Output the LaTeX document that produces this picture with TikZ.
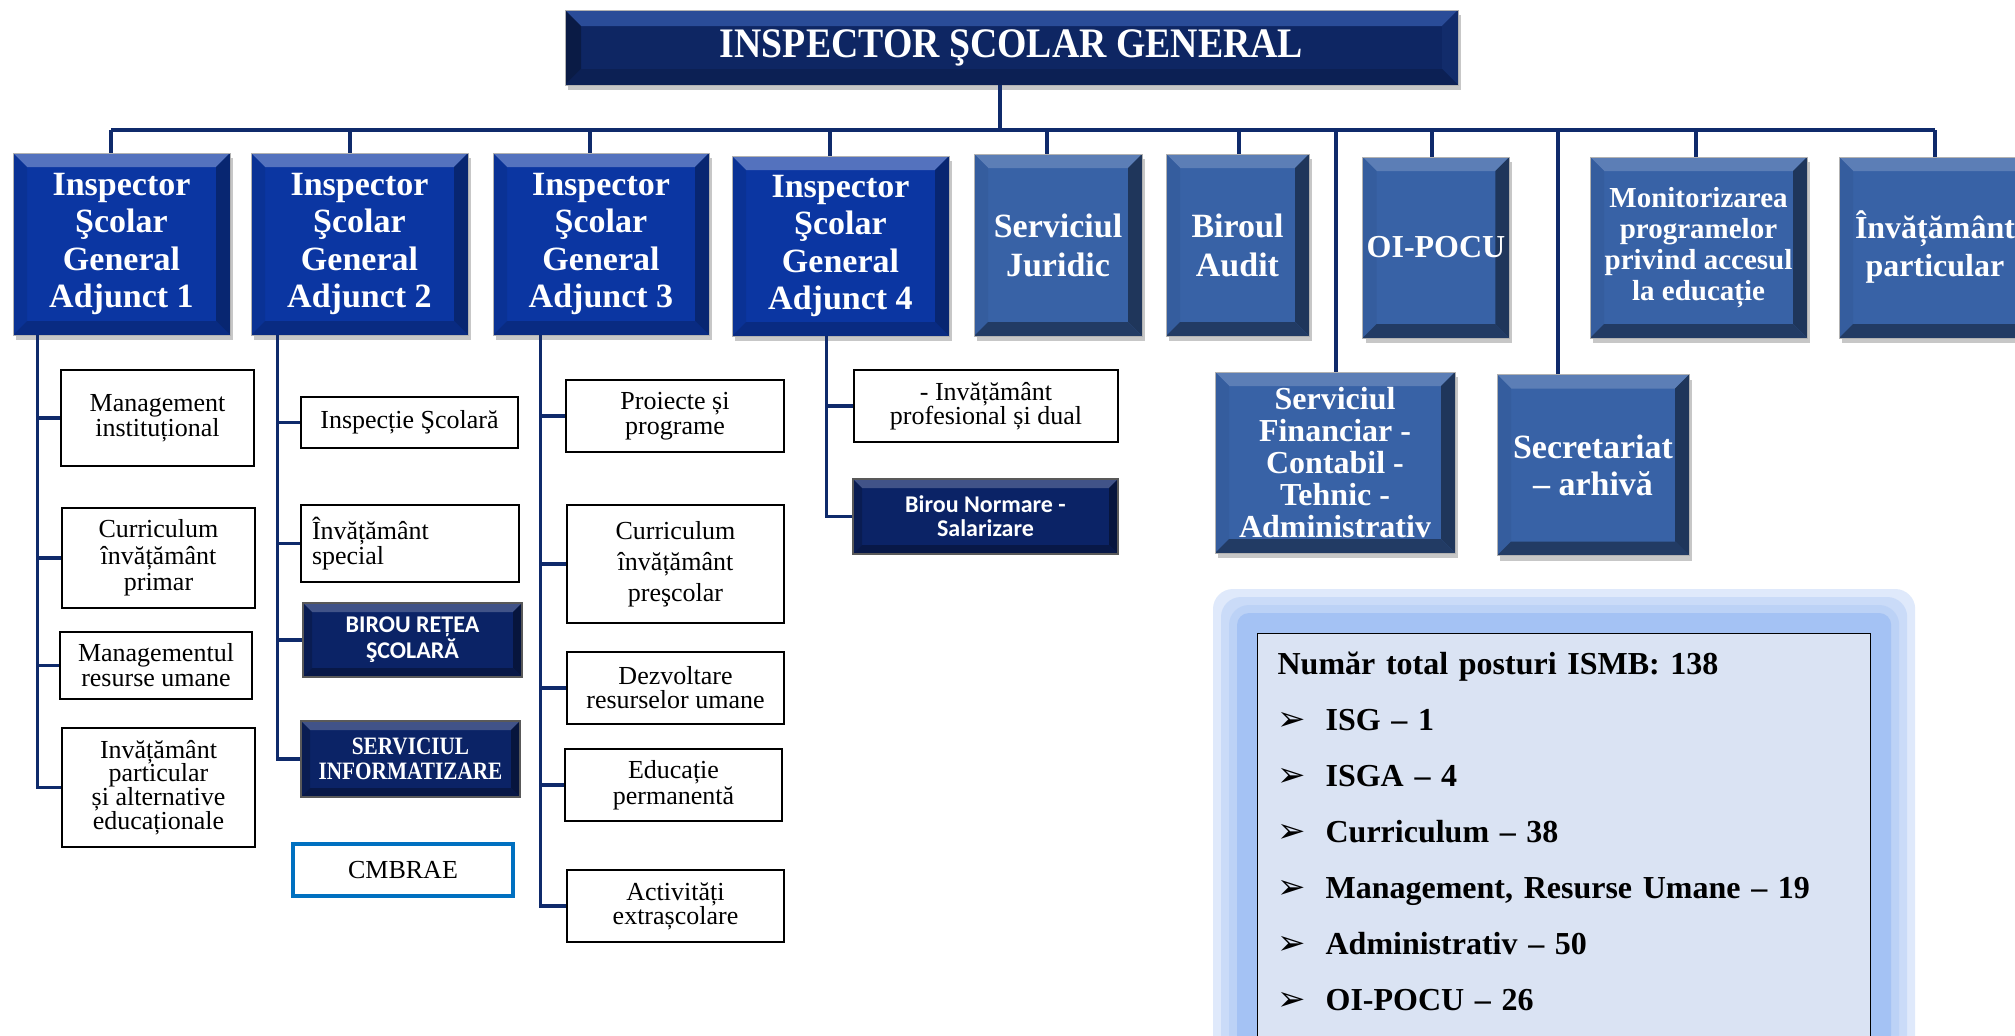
\documentclass[tikz,border=0pt]{standalone}
\usepackage{fontspec}
\setmainfont{Liberation Serif}
\newfontfamily\calibri{Carlito}
\newfontfamily\condserif{Liberation Serif}[FakeStretch=0.85]
\newfontfamily\titleserif{Liberation Serif}[FakeStretch=0.9]
\newfontfamily\arrowsym{DejaVu Sans}
\usetikzlibrary{backgrounds}

\definecolor{linec}{HTML}{0F2A6B}
\definecolor{navy}{HTML}{0E2663}
\definecolor{navytop}{HTML}{2A4C98}
\definecolor{royal}{HTML}{0B36A2}
\definecolor{steel}{HTML}{3862A6}
\definecolor{deep}{HTML}{0B2366}
\definecolor{glowc}{HTML}{A4C2F4}
\definecolor{statfill}{HTML}{DAE3F3}
\definecolor{cmbc}{HTML}{0070C0}

\newcommand\ppb{path picture bounding box}
\newcommand\blt{\makebox[24pt][l]{\arrowsym\fontsize{17}{17}\selectfont ➢}}

\tikzset{
  sz/.style 2 args={minimum width=#1*0.5pt, minimum height=#2*0.5pt},
  bevel/.style n args={5}{path picture={
      \fill[#2] (\ppb.north west) -- (\ppb.north east) -- ([shift={(-#1,-#1)}]\ppb.north east) -- ([shift={(#1,-#1)}]\ppb.north west) -- cycle;
      \fill[#3] (\ppb.north west) -- ([shift={(#1,-#1)}]\ppb.north west) -- ([shift={(#1,#1)}]\ppb.south west) -- (\ppb.south west) -- cycle;
      \fill[#4] (\ppb.north east) -- ([shift={(-#1,-#1)}]\ppb.north east) -- ([shift={(-#1,#1)}]\ppb.south east) -- (\ppb.south east) -- cycle;
      \fill[#5] (\ppb.south west) -- ([shift={(#1,#1)}]\ppb.south west) -- ([shift={(-#1,#1)}]\ppb.south east) -- (\ppb.south east) -- cycle;
    }},
  boxshadow/.style={preaction={fill=black, opacity=0.22, transform canvas={xshift=1.5pt, yshift=-2.5pt}}},
  lvl/.style={draw=gray!60, line width=0.4pt, text=white, align=center, inner sep=2pt, boxshadow,
    font=\bfseries\fontsize{17}{18.8}\selectfont},
  chief/.style={lvl, fill=navy, bevel={8pt}{navytop}{black!30!navy}{navy!85!navytop}{black!15!navy},
    font=\titleserif\bfseries\fontsize{21}{24}\selectfont},
  adjbox/.style={lvl, fill=royal, bevel={7pt}{white!30!royal}{black!8!royal}{black!30!royal}{black!20!royal}},
  deptbox/.style={lvl, fill=steel, bevel={7pt}{white!18!steel}{black!5!steel}{black!45!steel}{black!40!steel}},
  darkbox/.style={draw=gray!70!black, line width=0.6pt, fill=deep, text=white, align=center, inner sep=2pt,
    bevel={4.5pt}{white!22!deep}{black!20!deep}{black!40!deep}{black!30!deep}},
  plainbox/.style={draw=black, line width=1.3pt, fill=white, align=center, inner sep=2pt,
    font=\fontsize{13}{12.5}\selectfont},
  cmbbox/.style={draw=cmbc, line width=2.2pt, fill=white, align=center, font=\fontsize{13}{13}\selectfont},
  statbox/.style={draw=black, line width=0.6pt, fill=statfill, align=left, inner xsep=10pt, inner ysep=9.3pt,
    font=\bfseries\fontsize{16}{28}\selectfont},
  conn/.style={draw=linec, line width=1.6pt},
}

\begin{document}
\begin{tikzpicture}[x=0.5pt, y=-0.5pt]
\useasboundingbox (0,0) rectangle (2015,1035);
\begin{scope}[on background layer]
  \fill[white] (0,0) rectangle (2015,1035);
\end{scope}

% conducere
\node[chief, sz={893}{75}] (isg) at (1011.5,47.5) {INSPECTOR ŞCOLAR GENERAL};

\node[adjbox, sz={217}{182}] (adj1) at (121.5,244) {Inspector\\Şcolar\\General\\Adjunct 1};
\node[adjbox, sz={217}{182}] (adj2) at (359.5,244) {Inspector\\Şcolar\\General\\Adjunct 2};
\node[adjbox, sz={216}{182}] (adj3) at (601,244) {Inspector\\Şcolar\\General\\Adjunct 3};
\node[adjbox, sz={217}{180}] (adj4) at (840.5,246) {Inspector\\Şcolar\\General\\Adjunct 4};

% servicii subordonate ISG
\node[deptbox, sz={168}{182}, font=\bfseries\fontsize{17}{19.5}\selectfont] (jur) at (1058,245) {Serviciul\\Juridic};
\node[deptbox, sz={143}{182}, font=\bfseries\fontsize{17}{19.5}\selectfont] (audit) at (1237.5,245) {Biroul\\Audit};
\node[deptbox, sz={144}{181}, font=\bfseries\fontsize{16}{18}\selectfont] (oipocu) at (1436,247.5) {OI-POCU};
\node[deptbox, sz={217}{181}, font=\bfseries\fontsize{14.5}{15.5}\selectfont] (monit) at (1698.5,247.5) {Monitorizarea\\programelor\\privind accesul\\la educație};
\node[deptbox, sz={192}{181}, font=\bfseries\fontsize{16}{19}\selectfont] (part) at (1935,247.5) {Învățământ\\particular};
\node[deptbox, sz={240}{181}, font=\bfseries\fontsize{16}{16}\selectfont] (fin) at (1335,462.5) {Serviciul\\Financiar -\\Contabil -\\Tehnic -\\Administrativ};
\node[deptbox, sz={192}{181}, font=\bfseries\fontsize{17}{18.5}\selectfont] (secr) at (1593,465) {Secretariat\\– arhivă};

% bara orizontala
\coordinate (busL) at (111,130);
\coordinate (busR) at (1935,130);
\draw[conn] (busL) -- (busR);
\coordinate (d0) at ([xshift=-5.75pt]isg.south);
\draw[conn] (d0) -- (d0 |- busL);
\foreach \n/\s in {adj1/-5.25, adj2/-4.75, adj3/-5.5, adj4/-5.25, jur/-5.5, audit/0.75, oipocu/-2, monit/-1.25, part/0, fin/0.5, secr/-17.5} {
  \coordinate (d) at ([xshift=\s pt]\n.north);
  \draw[conn] (d) -- (d |- busL);
}

% ISGA 1
\node[plainbox, sz={193}{96}] (mi) at (157.5,418) {Management\\instituțional};
\node[plainbox, sz={193}{100}, font=\fontsize{13}{13.3}\selectfont] (cip) at (158.5,558) {Curriculum\\învățământ\\primar};
\node[plainbox, sz={192}{67}] (mru) at (156,665.5) {Managementul\\resurse umane};
\node[plainbox, sz={193}{119}, font=\fontsize{13}{11.9}\selectfont] (ipa) at (158.5,787.5) {Invățământ\\particular\\și alternative\\educaționale};
\coordinate (t1) at ([xshift=12.5pt]adj1.south west);
\draw[conn] (t1) |- (ipa.west);
\foreach \c in {mi, cip, mru} \draw[conn] (t1 |- \c.west) -- (\c.west);

% ISGA 2
\node[plainbox, sz={217}{51}] (insp) at (409.5,422.5) {Inspecție Şcolară};
\node[plainbox, sz={218}{77}, align=left, text width=98pt, inner xsep=5.5pt, font=\fontsize{13}{12.8}\selectfont] (ies) at (410,543.5) {Învățământ\\special};
\node[darkbox, sz={219}{74}, font=\calibri\bfseries\fontsize{12}{11.5}\selectfont] (brs) at (412.5,640) {BIROU REȚEA\\ŞCOLARĂ};
\node[darkbox, sz={219}{76}, font=\condserif\bfseries\fontsize{12.5}{12.5}\selectfont] (sinf) at (410.5,759) {SERVICIUL\\INFORMATIZARE};
\node[cmbbox, sz={220}{52}] (cmbrae) at (403,870) {CMBRAE};
\coordinate (t2) at ([xshift=13.5pt]adj2.south west);
\draw[conn] (t2) |- (sinf.west);
\foreach \c in {insp, ies, brs} \draw[conn] (t2 |- \c.west) -- (\c.west);

% ISGA 3
\node[plainbox, sz={218}{72}] (proi) at (675,416) {Proiecte și\\programe};
\node[plainbox, sz={217}{118}, font=\fontsize{13}{15.5}\selectfont] (cpre) at (675.5,564) {Curriculum\\învățământ\\preşcolar};
\node[plainbox, sz={217}{72}, font=\fontsize{13}{12}\selectfont] (dezv) at (675.5,688) {Dezvoltare\\resurselor umane};
\node[plainbox, sz={217}{72}, font=\fontsize{13}{13}\selectfont] (educ) at (673.5,785) {Educație\\permanentă};
\node[plainbox, sz={217}{72}, font=\fontsize{13}{12}\selectfont] (activ) at (675.5,906) {Activități\\extrașcolare};
\coordinate (t3) at ([xshift=24pt]adj3.south west);
\draw[conn] (t3) |- (activ.west);
\foreach \c in {proi, cpre, dezv, educ} \draw[conn] (t3 |- \c.west) -- (\c.west);

% ISGA 4
\node[plainbox, sz={264}{72}, font=\fontsize{13}{12}\selectfont] (prof) at (986,406) {- Invățământ\\profesional și dual};
\node[darkbox, sz={265}{75}, font=\calibri\bfseries\fontsize{12}{12}\selectfont] (norm) at (985.5,516.5) {Birou Normare -\\Salarizare};
\coordinate (t4) at ([xshift=47.5pt]adj4.south west);
\draw[conn] (t4) |- (norm.west);
\draw[conn] (t4 |- prof.west) -- (prof.west);

% posturi
\node[statbox, anchor=north west, text width=286.5pt] (stats) at (1257,633) {%
  Număr total posturi ISMB: 138\\
  \blt ISG – 1\\
  \blt ISGA – 4\\
  \blt Curriculum – 38\\
  \blt Management, Resurse Umane – 19\\
  \blt Administrativ – 50\\
  \blt OI-POCU – 26\\
  \mbox{}};
\begin{scope}[on background layer]
  \foreach \g in {22,18,14}
    \fill[glowc, opacity=0.35, rounded corners=10pt] ([shift={(-\g pt,\g pt)}]stats.north west) rectangle ([shift={(\g pt,-\g pt)}]stats.south east);
  \fill[glowc, rounded corners=6pt] ([shift={(-10pt,10pt)}]stats.north west) rectangle ([shift={(10pt,-10pt)}]stats.south east);
\end{scope}
\end{tikzpicture}
\end{document}
